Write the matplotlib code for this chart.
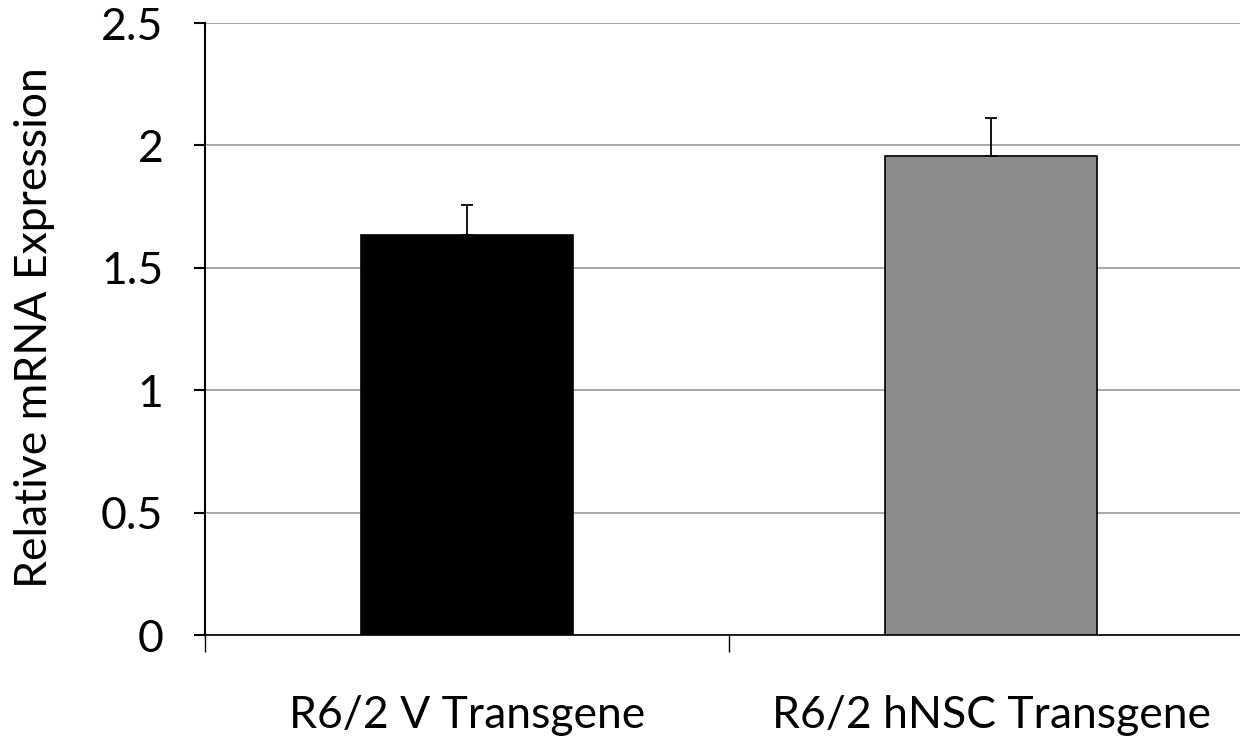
import matplotlib
matplotlib.use("Agg")
import matplotlib.pyplot as plt

categories = ["R6/2 V Transgene", "R6/2 hNSC Transgene"]
values = [1.635, 1.958]
errors = [0.123, 0.155]
colors = ["#000000", "#8c8c8c"]
yticks = [0, 0.5, 1, 1.5, 2, 2.5]
ytick_labels = ["0", "0.5", "1", "1.5", "2", "2.5"]

plt.rcParams['font.family'] = ['Lato', 'DejaVu Sans']

fig = plt.figure(figsize=(12.4, 7.4), dpi=100)
W, H = 1240, 740
left, right = 205, 1253
bottom, top = 635, 23
ax = fig.add_axes([left / W, 1 - bottom / H, (right - left) / W, (bottom - top) / H])

x = list(range(len(categories)))
ax.bar(x, values, width=0.405, color=colors, edgecolor="black", linewidth=1.2, zorder=3)
ax.errorbar(x, values, yerr=[[0, 0], errors], fmt="none", ecolor="black",
            elinewidth=1.3, capsize=4.5, capthick=1.3, zorder=4)

ax.set_xlim(-0.5, 1.5)
ax.set_ylim(0, 2.5)
ax.set_yticks(yticks)
ax.set_yticklabels(ytick_labels, fontsize=32)
ax.yaxis.grid(True, color="#a0a0a0", linewidth=1.3, zorder=0)
ax.set_axisbelow(True)

ax.set_xticks([-0.5, 0.5, 1.5])
ax.set_xticklabels([])
ax.tick_params(axis="x", direction="out", length=12, width=1, color="black")
ax.tick_params(axis="y", direction="out", length=8, width=1.5, color="black", pad=22)
for i, c in enumerate(categories):
    ax.text(i, -0.33, c, ha="center", va="center", fontsize=32,
            transform=ax.transData, clip_on=False)

for s in ["top", "right"]:
    ax.spines[s].set_visible(False)
ax.spines["left"].set_linewidth(1.5)
ax.spines["bottom"].set_linewidth(1.2)

fig.text(35 / W, 1 - 328 / H, "Relative mRNA Expression", rotation=90,
         ha="center", va="center", fontsize=32)

fig.savefig("out.png", dpi=100)
